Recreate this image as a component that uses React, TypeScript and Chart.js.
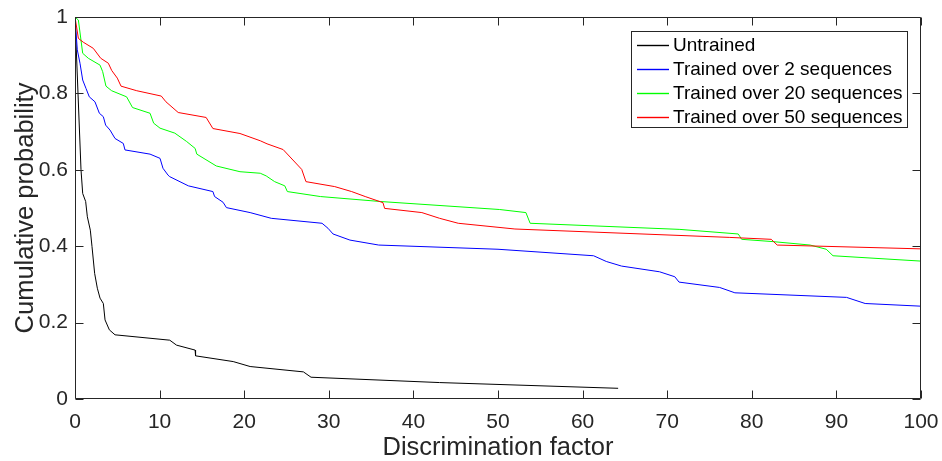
import React, { useEffect, useRef } from 'react';
import { Chart, registerables } from 'chart.js';

Chart.register(...registerables);

// [discrimination factor, cumulative probability]
const untrained: [number, number][] = [
  [0, 1], [0.71, 0.6], [0.91, 0.538], [1.26, 0.517], [1.46, 0.477], [1.81, 0.442],
  [2.01, 0.399], [2.32, 0.329], [2.64, 0.29], [2.96, 0.264], [3.35, 0.25], [3.55, 0.207],
  [4.06, 0.181], [4.73, 0.168], [11.2, 0.154], [12.0, 0.141], [14.2, 0.128], [14.25, 0.113],
  [18.7, 0.098], [20.7, 0.085], [27.0, 0.071], [27.9, 0.057], [43.1, 0.043], [64.2, 0.028],
];

const trained2: [number, number][] = [
  [0, 1], [0.27, 0.914], [0.59, 0.879], [0.91, 0.835], [1.3, 0.813], [1.69, 0.791],
  [2.36, 0.778], [2.88, 0.748], [3.35, 0.739], [3.62, 0.717], [4.14, 0.704], [4.73, 0.682],
  [5.71, 0.669], [5.91, 0.652], [8.87, 0.641], [10.05, 0.63], [10.4, 0.604], [11.0, 0.586],
  [11.2, 0.582], [13.4, 0.558], [16.3, 0.543], [16.5, 0.53], [17.5, 0.515], [17.9, 0.501],
  [20.7, 0.488], [23.2, 0.473], [29.2, 0.46], [29.9, 0.447], [30.5, 0.432], [32.5, 0.416],
  [35.9, 0.403], [50.0, 0.392], [61.3, 0.375], [62.8, 0.36], [64.6, 0.348], [69.1, 0.333],
  [70.9, 0.32], [71.4, 0.306], [76.2, 0.292], [78.0, 0.278], [91.2, 0.266], [93.4, 0.25],
  [100, 0.243],
];

const trained20: [number, number][] = [
  [0, 1], [0.4, 0.992], [0.91, 0.905], [1.57, 0.892], [2.96, 0.874], [3.27, 0.857],
  [3.66, 0.819], [4.33, 0.807], [6.1, 0.791], [6.8, 0.763], [8.87, 0.748], [9.3, 0.722],
  [10.05, 0.709], [11.8, 0.696], [13.2, 0.674], [14.2, 0.656], [14.4, 0.641], [16.7, 0.61],
  [19.5, 0.595], [21.9, 0.591], [22.6, 0.584], [23.6, 0.569], [24.8, 0.558], [25.1, 0.543],
  [29.0, 0.53], [36.1, 0.517], [50.2, 0.496], [53.3, 0.488], [53.8, 0.46], [71.5, 0.444],
  [78.4, 0.432], [78.8, 0.418], [82.5, 0.412], [86.9, 0.403], [88.8, 0.392], [89.6, 0.375],
  [100, 0.361],
];

const trained50: [number, number][] = [
  [0, 1], [0.4, 0.944], [0.98, 0.934], [2.16, 0.918], [3.04, 0.892], [3.94, 0.879],
  [4.34, 0.86], [5.0, 0.84], [5.44, 0.819], [7.3, 0.807], [10.2, 0.793], [10.75, 0.778],
  [12.2, 0.75], [15.5, 0.737], [16.3, 0.708], [19.5, 0.695], [21.9, 0.676], [22.7, 0.668],
  [24.6, 0.653], [26.8, 0.601], [27.3, 0.569], [30.7, 0.556], [32.7, 0.543], [34.3, 0.53],
  [36.4, 0.514], [36.6, 0.499], [41.0, 0.488], [43.1, 0.473], [45.3, 0.46], [52.0, 0.445],
  [77.4, 0.423], [82.3, 0.418], [83.0, 0.403], [100, 0.393],
];

const seriesLabels = [
  'Untrained',
  'Trained over 2 sequences',
  'Trained over 20 sequences',
  'Trained over 50 sequences',
];
const seriesColors = ['#000000', '#0000ff', '#00ff00', '#ff0000'];

const xTicks = [0, 10, 20, 30, 40, 50, 60, 70, 80, 90, 100];
const yTicks = [0, 0.2, 0.4, 0.6, 0.8, 1];
const yTickLabels = ['0', '0.2', '0.4', '0.6', '0.8', '1'];

const FONT = "'Liberation Sans', Arial, Helvetica, sans-serif";
const AXIS_COLOR = '#262626';
const TICK_LEN = 8;

// Boxed axes with inward tick marks on all four sides
const boxPlugin = {
  id: 'boxAxes',
  afterDatasetsDraw(chart: any) {
    const { ctx, chartArea, scales } = chart;
    const { left, right, top, bottom } = chartArea;
    const L = Math.round(left) + 0.5;
    const R = Math.round(right) - 0.5;
    const T = Math.round(top) + 0.5;
    const B = Math.round(bottom) - 0.5;
    ctx.save();
    ctx.strokeStyle = AXIS_COLOR;
    ctx.lineWidth = 1;
    ctx.beginPath();
    ctx.rect(L, T, R - L, B - T);
    for (const v of xTicks) {
      const px = Math.round(scales.x.getPixelForValue(v)) + 0.5;
      ctx.moveTo(px, B);
      ctx.lineTo(px, B - TICK_LEN);
      ctx.moveTo(px, T);
      ctx.lineTo(px, T + TICK_LEN);
    }
    for (const v of yTicks) {
      const py = Math.round(scales.y.getPixelForValue(v)) + 0.5;
      ctx.moveTo(L, py);
      ctx.lineTo(L + TICK_LEN, py);
      ctx.moveTo(R, py);
      ctx.lineTo(R - TICK_LEN, py);
    }
    ctx.stroke();
    ctx.restore();
  },
};

// Legend box in the upper right corner of the plot area
const legendPlugin = {
  id: 'boxLegend',
  afterDraw(chart: any) {
    const { ctx, chartArea } = chart;
    const fontSize = 19;
    const rowH = 24;
    const lineLen = 32;
    const padL = 6;
    const gap = 4;
    const padR = 5;
    ctx.save();
    ctx.font = `${fontSize}px ${FONT}`;
    let maxW = 0;
    for (const label of seriesLabels) maxW = Math.max(maxW, ctx.measureText(label).width);
    const w = Math.round(padL + lineLen + gap + maxW + padR);
    const h = 14 + rowH * (seriesLabels.length - 1) + 11;
    const x1 = Math.round(chartArea.right) - 13;
    const x0 = x1 - w;
    const y0 = Math.round(chartArea.top) + 14;
    ctx.fillStyle = '#ffffff';
    ctx.fillRect(x0, y0, w, h);
    ctx.strokeStyle = AXIS_COLOR;
    ctx.lineWidth = 1;
    ctx.strokeRect(x0 + 0.5, y0 + 0.5, w - 1, h - 1);
    ctx.textBaseline = 'middle';
    ctx.textAlign = 'left';
    seriesLabels.forEach((label, i) => {
      const cy = y0 + 14 + i * rowH;
      ctx.strokeStyle = seriesColors[i];
      ctx.lineWidth = 1.4;
      ctx.beginPath();
      ctx.moveTo(x0 + padL, cy + 0.5);
      ctx.lineTo(x0 + padL + lineLen, cy + 0.5);
      ctx.stroke();
      ctx.fillStyle = '#000000';
      ctx.fillText(label, x0 + padL + lineLen + gap, cy + 1);
    });
    ctx.restore();
  },
};

export default function App() {
  const canvasRef = useRef<HTMLCanvasElement | null>(null);

  useEffect(() => {
    const canvas = canvasRef.current;
    if (!canvas) return;
    const series = [untrained, trained2, trained20, trained50];
    const chart = new Chart(canvas, {
      type: 'line',
      data: {
        datasets: series.map((pts, i) => ({
          label: seriesLabels[i],
          data: pts.map(([x, y]) => ({ x, y })),
          borderColor: seriesColors[i],
          backgroundColor: seriesColors[i],
          borderWidth: 1,
          pointRadius: 0,
          tension: 0,
          fill: false,
          order: series.length - i,
        })),
      },
      options: {
        responsive: false,
        animation: false,
        devicePixelRatio: 1,
        layout: { padding: { top: 17, right: 21, left: 0, bottom: 0 } },
        plugins: {
          legend: { display: false },
          tooltip: { enabled: false },
        },
        scales: {
          x: {
            type: 'linear',
            min: 0,
            max: 100,
            afterBuildTicks: (scale: any) => {
              scale.ticks = xTicks.map((v) => ({ value: v }));
            },
            afterFit: (scale: any) => {
              scale.height = 62;
              scale.paddingLeft = 0;
              scale.paddingRight = 0;
            },
            grid: { display: false, drawTicks: false },
            border: { display: false },
            ticks: {
              padding: 11,
              maxRotation: 0,
              autoSkip: false,
              color: AXIS_COLOR,
              font: { family: FONT, size: 21 },
              callback: (v: any) => String(v),
            },
            title: {
              display: true,
              text: 'Discrimination factor',
              color: AXIS_COLOR,
              font: { family: FONT, size: 25.5, lineHeight: 1 },
              padding: { top: 0, bottom: 0 },
            },
          },
          y: {
            type: 'linear',
            min: 0,
            max: 1,
            afterBuildTicks: (scale: any) => {
              scale.ticks = yTicks.map((v) => ({ value: v }));
            },
            afterFit: (scale: any) => {
              scale.width = 75;
              scale.paddingTop = 0;
              scale.paddingBottom = 0;
            },
            grid: { display: false, drawTicks: false },
            border: { display: false },
            ticks: {
              padding: 7,
              autoSkip: false,
              color: AXIS_COLOR,
              font: { family: FONT, size: 21 },
              callback: (v: any) => yTickLabels[yTicks.indexOf(Number(v))] ?? String(v),
            },
            title: {
              display: true,
              text: 'Cumulative probability',
              color: AXIS_COLOR,
              font: { family: FONT, size: 25.5, lineHeight: 1 },
              padding: { top: 13, bottom: 0 },
            },
          },
        },
      },
      plugins: [boxPlugin, legendPlugin],
    });
    return () => chart.destroy();
  }, []);

  return (
    <canvas
      ref={canvasRef}
      width={942}
      height={461}
      style={{ position: 'fixed', left: 0, top: 0, display: 'block', background: '#ffffff' }}
    />
  );
}
